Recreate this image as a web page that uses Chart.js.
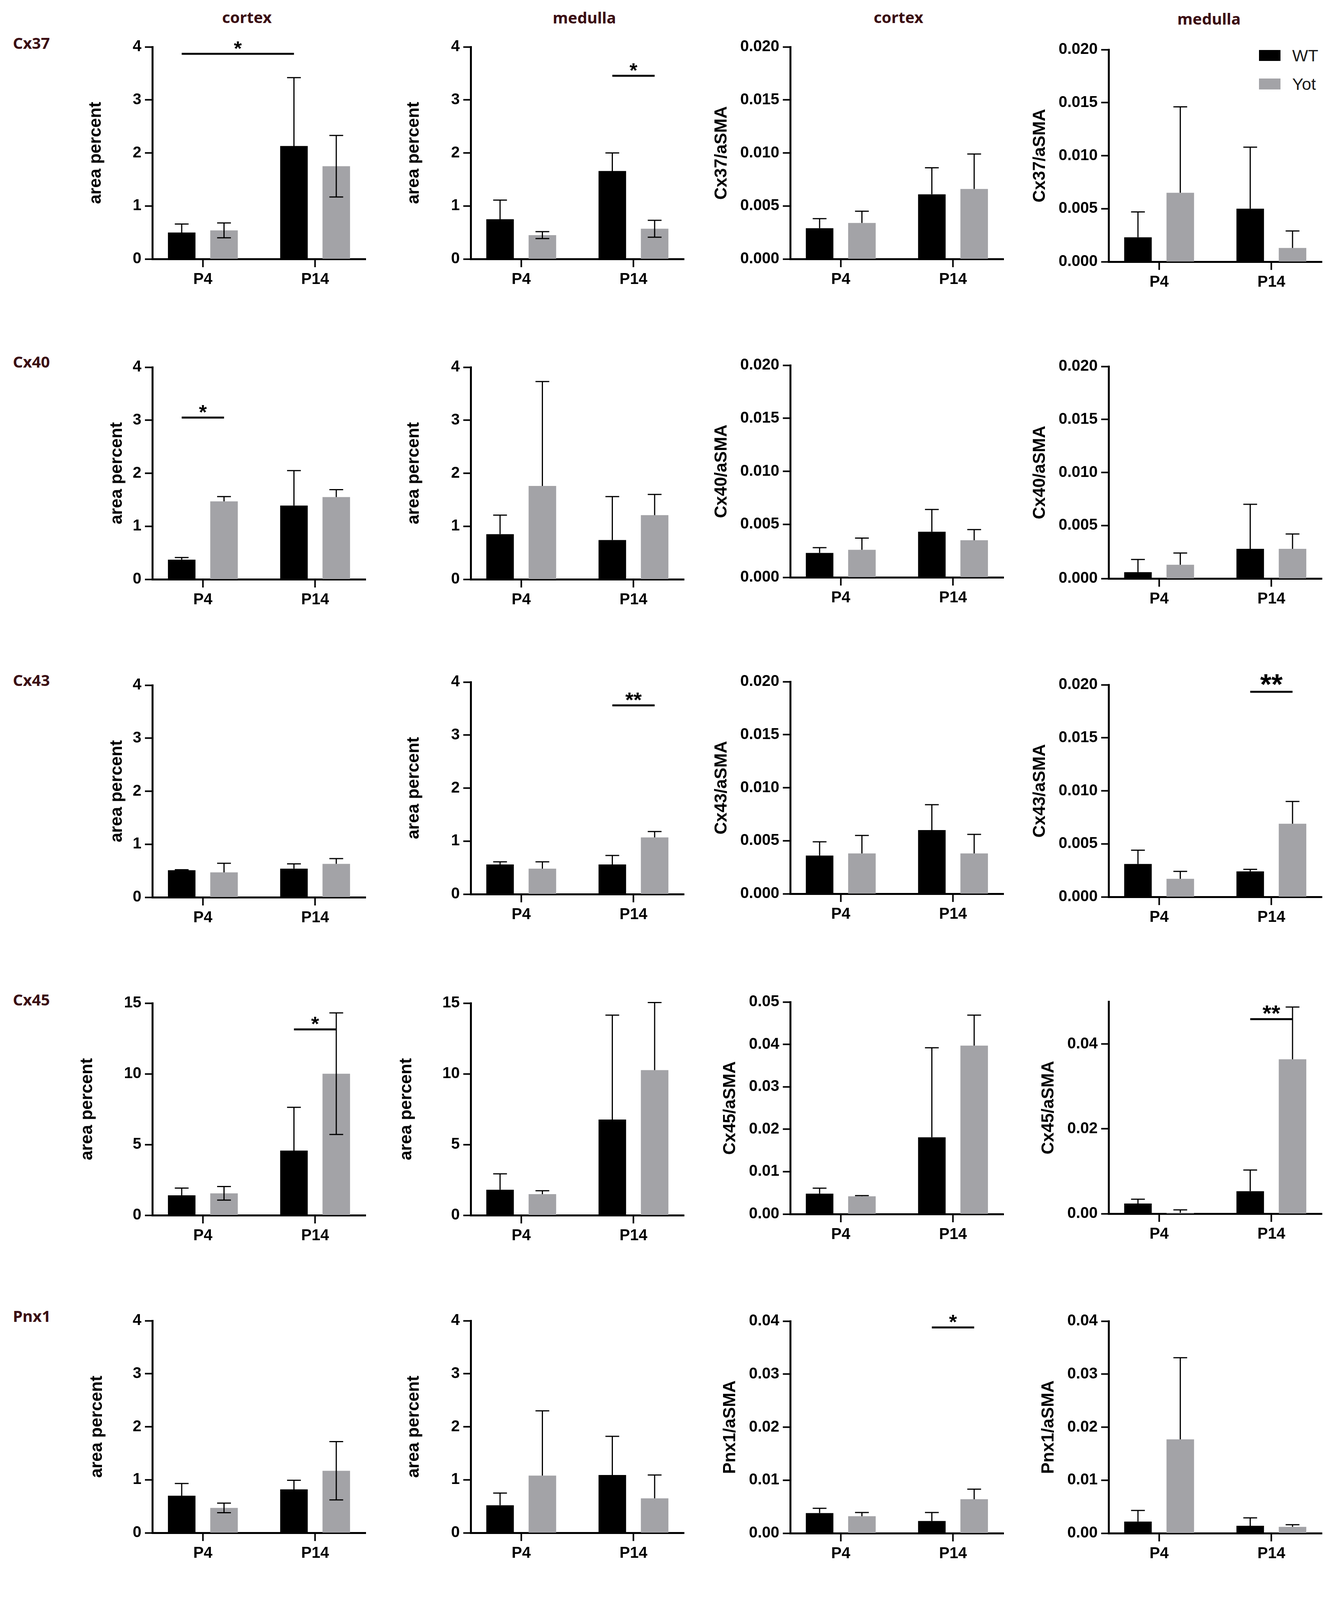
<!DOCTYPE html>
<html>
<head>
<meta charset="utf-8">
<title>Connexin area and aSMA ratio, WT vs Yot</title>
<script src="https://cdn.jsdelivr.net/npm/chart.js@4.4.1/dist/chart.umd.min.js"></script>
<style>
  html, body { margin: 0; padding: 0; background: #fff; }
  #page { position: relative; width: 3415px; height: 4843px; overflow: hidden; background: #fff; }
  #page canvas { position: absolute; }
  .head, .marker {
    position: absolute; font-family: 'Noto Sans', sans-serif; font-weight: 700;
    color: #3a0d12; line-height: 1; white-space: nowrap;
  }
  .head { font-size: 40px; width: 300px; text-align: center; }
  .marker { font-size: 40px; left: 33px; }
  .legend { position: absolute; left: 3223px; top: 117px; font-family: 'Liberation Sans', Arial, sans-serif; font-size: 43px; color: #1a1a1a; }
  .legend .item { display: flex; align-items: center; height: 50px; margin-bottom: 23px; }
  .legend .box { width: 55px; height: 28px; margin-right: 30px; }
</style>
</head>
<body>
<div id="page"></div>
<script>
// ---- data ----
const categories = ['P4', 'P14'];
const groups = ['WT', 'Yot'];
const markers = ['Cx37', 'Cx40', 'Cx43', 'Cx45', 'Pnx1', 'Renin'];
const regions = ['cortex', 'medulla', 'cortex', 'medulla'];

// y tick labels
const ticksArea4 = ['0', '1', '2', '3', '4'];
const ticksArea15 = ['0', '5', '10', '15'];
const ticksRatio020 = ['0.000', '0.005', '0.010', '0.015', '0.020'];
const ticksRatio05 = ['0.00', '0.01', '0.02', '0.03', '0.04', '0.05'];
const ticksRatio04 = ['0.00', '0.01', '0.02', '0.03', '0.04'];
const ticksRatio04Wide = ['0.00', '0.02', '0.04'];   // axis itself runs to 0.05

// each row: [cortex area, medulla area, cortex ratio, medulla ratio], each [P4, P14]
const cx37WT    = [[0.50, 2.13], [0.75, 1.66], [0.0029, 0.0061], [0.0023, 0.0050]];
const cx37WTsd  = [[0.16, 1.29], [0.36, 0.34], [0.0009, 0.0025], [0.0024, 0.0058]];
const cx37Yot   = [[0.54, 1.75], [0.45, 0.57], [0.0034, 0.0066], [0.0065, 0.0013]];
const cx37YotSd = [[0.14, 0.58], [0.065, 0.16], [0.0011, 0.0033], [0.0081, 0.0016]];

const cx40WT    = [[0.37, 1.39], [0.85, 0.74], [0.0023, 0.0043], [0.0006, 0.0028]];
const cx40WTsd  = [[0.04, 0.66], [0.36, 0.82], [0.0005, 0.0021], [0.0012, 0.0042]];
const cx40Yot   = [[1.47, 1.55], [1.76, 1.21], [0.0026, 0.0035], [0.0013, 0.0028]];
const cx40YotSd = [[0.09, 0.14], [1.97, 0.39], [0.0011, 0.0010], [0.0011, 0.0014]];

const cx43WT    = [[0.51, 0.54], [0.56, 0.56], [0.0036, 0.0060], [0.0031, 0.0024]];
const cx43WTsd  = [[0.01, 0.09], [0.05, 0.17], [0.0013, 0.0024], [0.0013, 0.0002]];
const cx43Yot   = [[0.47, 0.63], [0.48, 1.07], [0.0038, 0.0038], [0.0017, 0.0069]];
const cx43YotSd = [[0.17, 0.10], [0.13, 0.11], [0.0017, 0.0018], [0.0007, 0.0021]];

const cx45WT    = [[1.41, 4.57], [1.80, 6.77], [0.0048, 0.0181], [0.0024, 0.0053]];
const cx45WTsd  = [[0.51, 3.06], [1.13, 7.38], [0.0013, 0.0211], [0.0010, 0.0050]];
const cx45Yot   = [[1.55, 10.01], [1.49, 10.26], [0.0042, 0.0397], [0.0002, 0.0364]];
const cx45YotSd = [[0.48, 4.30], [0.24, 4.78], [0.00014, 0.0072], [0.0007, 0.0123]];

const pnx1WT    = [[0.70, 0.82], [0.52, 1.09], [0.0038, 0.0023], [0.0022, 0.0014]];
const pnx1WTsd  = [[0.23, 0.17], [0.23, 0.73], [0.0009, 0.0016], [0.0021, 0.0015]];
const pnx1Yot   = [[0.47, 1.17], [1.08, 0.65], [0.0032, 0.0064], [0.0177, 0.0012]];
const pnx1YotSd = [[0.09, 0.55], [1.22, 0.44], [0.0007, 0.0019], [0.0154, 0.0004]];

const reninWT    = [[0.034, 0.365], [0.024, 0.303], [0.0056, 0.0060], [0.0062, 0.0024]];
const reninWTsd  = [[0.031, 0.12], [0.052, 0], [0.0074, 0.0024], [0.0042, 0.0002]];
const reninYot   = [[0.052, 0.788], [0.031, 0.372], [0.0085, 0.0037], [0.0023, 0.0069]];
const reninYotSd = [[0.013, 0.085], [0.010, 0.11], [0.0060, 0.0018], [0.0023, 0.0021]];

// y axis per row and column
const areaTicks = [ticksArea4, ticksArea4, ticksArea4, ticksArea15, ticksArea4, ticksArea4];
const ratioTicks = [ticksRatio020, ticksRatio020, ticksRatio020, ticksRatio05, ticksRatio04, ticksRatio020];
const medullaRatioTicks = [ticksRatio020, ticksRatio020, ticksRatio020, ticksRatio04Wide, ticksRatio04, ticksRatio020];
const medullaRatioMax = [0.02, 0.02, 0.02, 0.05, 0.04, 0.02];

// significance: from/to = [category, group], y in data units
const sigBars = [
  { row: 0, col: 0, from: [0, 0], to: [1, 0], y: 3.87, text: '*' },
  { row: 0, col: 1, from: [1, 0], to: [1, 1], y: 3.455, text: '*' },
  { row: 1, col: 0, from: [0, 0], to: [0, 1], y: 3.05, text: '*' },
  { row: 2, col: 1, from: [1, 0], to: [1, 1], y: 3.56, text: '**' },
  { row: 2, col: 3, from: [1, 0], to: [1, 1], y: 0.01934, text: '**' },
  { row: 3, col: 0, from: [1, 0], to: [1, 1], y: 13.14, text: '*' },
  { row: 3, col: 3, from: [1, 0], to: [1, 1], y: 0.04585, text: '**' },
  { row: 4, col: 2, from: [1, 0], to: [1, 1], y: 0.0388, text: '*' },
  { row: 5, col: 0, from: [1, 0], to: [1, 1], y: 1.997, text: '***' }
];

// ---- layout / style ----
const WT_COLOR = '#000000';
const YOT_COLOR = '#a3a3a7';
const FONT = "'Liberation Sans', Arial, sans-serif";
const Y_BOX = 240, PAD_TOP = 70, PAD_RIGHT = 20, X_BOX = 120;
const PLOT_W = 546, PLOT_H = 543;
const X_MIN = -0.45, X_MAX = 1.45;
const axisLeft = [390, 1205, 2023, 2838];
const plotTop = [
  [120, 120, 120, 127],
  [940, 940, 935, 938],
  [1754, 1746, 1745, 1753],
  [2568, 2568, 2565, 2564],
  [3381, 3381, 3382, 3382],
  [4199, 4195, 4192, 4194]
];
// distance from y axis to the centre of its title
const titleGap = [
  [144, 145, 175, 175],
  [90, 145, 175, 175],
  [90, 145, 175, 175],
  [166, 164, 153, 153],
  [141, 145, 153, 153],
  [90, 145, 170, 175]
];
// error bars drawn in both directions
const bothWays = [
  [1, 1, 0, 0], [0, 0, 0, 0], [0, 0, 0, 0], [1, 0, 0, 0], [1, 0, 0, 0], [1, 1, 0, 0]
];
const sigFontSize = [52, 52, 52, 54, 74, 52, 58, 52, 52];
const headLeft = [632, 1496, 2300, 3095];
const headTop = [24, 25, 24, 28];
const markerTop = [90, 906, 1721, 2539, 3349, 4168];

const rows = [
  { marker: markers[0], wt: cx37WT, wtSd: cx37WTsd, yot: cx37Yot, yotSd: cx37YotSd },
  { marker: markers[1], wt: cx40WT, wtSd: cx40WTsd, yot: cx40Yot, yotSd: cx40YotSd },
  { marker: markers[2], wt: cx43WT, wtSd: cx43WTsd, yot: cx43Yot, yotSd: cx43YotSd },
  { marker: markers[3], wt: cx45WT, wtSd: cx45WTsd, yot: cx45Yot, yotSd: cx45YotSd },
  { marker: markers[4], wt: pnx1WT, wtSd: pnx1WTsd, yot: pnx1Yot, yotSd: pnx1YotSd },
  { marker: markers[5], wt: reninWT, wtSd: reninWTsd, yot: reninYot, yotSd: reninYotSd }
];

const page = document.getElementById('page');

// mean + SD whiskers
const errorBars = {
  id: 'errorBars',
  afterDatasetsDraw(chart, args, opts) {
    const { ctx } = chart;
    const y = chart.scales.y;
    ctx.save();
    ctx.strokeStyle = '#000';
    ctx.lineWidth = 3;
    chart.data.datasets.forEach((ds, di) => {
      chart.getDatasetMeta(di).data.forEach((bar, i) => {
        const v = ds.data[i].y, e = ds.errors[i];
        if (!e) return;
        const half = bar.width * 0.25;
        const yv = y.getPixelForValue(v);
        const yt = y.getPixelForValue(v + e);
        ctx.beginPath();
        ctx.moveTo(bar.x, yv); ctx.lineTo(bar.x, yt);
        ctx.moveTo(bar.x - half, yt); ctx.lineTo(bar.x + half, yt);
        if (opts.both && v - e > 0) {
          const yb = y.getPixelForValue(v - e);
          ctx.moveTo(bar.x, yv); ctx.lineTo(bar.x, yb);
          ctx.moveTo(bar.x - half, yb); ctx.lineTo(bar.x + half, yb);
        }
        ctx.stroke();
      });
    });
    ctx.restore();
  }
};

// significance lines with stars
const sigMarks = {
  id: 'sigMarks',
  afterDraw(chart, args, opts) {
    const { ctx } = chart;
    const y = chart.scales.y;
    opts.items.forEach(s => {
      const x1 = chart.getDatasetMeta(s.from[1]).data[s.from[0]].x;
      const x2 = chart.getDatasetMeta(s.to[1]).data[s.to[0]].x;
      const yy = y.getPixelForValue(s.y);
      ctx.save();
      ctx.strokeStyle = '#000';
      ctx.lineWidth = 5;
      ctx.beginPath();
      ctx.moveTo(x1, yy); ctx.lineTo(x2, yy);
      ctx.stroke();
      ctx.fillStyle = '#000';
      ctx.font = 'bold ' + s.size + 'px ' + FONT;
      ctx.textAlign = 'center';
      ctx.textBaseline = 'alphabetic';
      ctx.fillText(s.text, (x1 + x2) / 2, yy + s.size * 0.08);
      ctx.restore();
    });
  }
};

function ticksFor(r, c) {
  if (c < 2) return { labels: areaTicks[r], max: Number(areaTicks[r][areaTicks[r].length - 1]) };
  if (c === 2) return { labels: ratioTicks[r], max: Number(ratioTicks[r][ratioTicks[r].length - 1]) };
  return { labels: medullaRatioTicks[r], max: medullaRatioMax[r] };
}

function makePanel(r, c) {
  const row = rows[r];
  const t = ticksFor(r, c);
  const w = Y_BOX + PLOT_W + PAD_RIGHT;
  const h = PAD_TOP + PLOT_H + X_BOX;
  const canvas = document.createElement('canvas');
  canvas.width = w;
  canvas.height = h;
  canvas.style.left = (axisLeft[c] - Y_BOX) + 'px';
  canvas.style.top = (plotTop[r][c] - PAD_TOP) + 'px';
  canvas.style.width = w + 'px';
  canvas.style.height = h + 'px';
  page.appendChild(canvas);

  const titleSize = 44;
  const titlePad = Y_BOX - titleGap[r][c] - titleSize * 1.2 / 2;
  const sigs = [];
  sigBars.forEach((s, i) => {
    if (s.row === r && s.col === c) sigs.push(Object.assign({ size: sigFontSize[i] }, s));
  });

  const series = [
    { label: groups[0], values: row.wt[c], errors: row.wtSd[c], color: WT_COLOR },
    { label: groups[1], values: row.yot[c], errors: row.yotSd[c], color: YOT_COLOR }
  ];

  new Chart(canvas, {
    type: 'bar',
    data: {
      datasets: series.map(s => ({
        label: s.label,
        data: s.values.map((v, i) => ({ x: i, y: v })),
        errors: s.errors,
        backgroundColor: s.color,
        borderWidth: 0,
        categoryPercentage: 0.754,
        barPercentage: 0.651
      }))
    },
    options: {
      responsive: false,
      animation: false,
      devicePixelRatio: 1,
      events: [],
      layout: { padding: { top: PAD_TOP, right: PAD_RIGHT, left: 0, bottom: 0 } },
      plugins: {
        legend: { display: false },
        tooltip: { enabled: false },
        errorBars: { both: !!bothWays[r][c] },
        sigMarks: { items: sigs }
      },
      scales: {
        x: {
          type: 'linear',
          min: X_MIN,
          max: X_MAX,
          offset: false,
          z: 1,
          afterBuildTicks: axis => { axis.ticks = categories.map((_, i) => ({ value: i })); },
          afterFit: axis => { axis.height = X_BOX; },
          ticks: {
            callback: (v, i) => categories[i],
            autoSkip: false, maxRotation: 0, padding: 8, color: '#000',
            font: { family: FONT, size: 40, weight: 'bold' }
          },
          grid: { display: true, offset: false, drawOnChartArea: false, drawTicks: true, tickLength: 21, tickWidth: 4, tickColor: '#000' },
          border: { display: true, width: 5, color: '#000' }
        },
        y: {
          type: 'linear',
          min: 0,
          max: t.max,
          z: 1,
          afterBuildTicks: axis => { axis.ticks = t.labels.map(l => ({ value: Number(l) })); },
          afterFit: axis => { axis.width = Y_BOX; },
          ticks: {
            callback: (v, i) => t.labels[i],
            autoSkip: false, padding: 9, color: '#000',
            font: { family: FONT, size: 40, weight: 'bold' }
          },
          grid: { display: true, drawOnChartArea: false, drawTicks: true, tickLength: 19, tickWidth: 4, tickColor: '#000' },
          border: { display: true, width: 5, color: '#000' },
          title: {
            display: true,
            text: c < 2 ? 'area percent' : row.marker + '/aSMA',
            color: '#000',
            padding: { top: titlePad, bottom: 0 },
            font: { family: FONT, size: titleSize, weight: 'bold' }
          }
        }
      }
    },
    plugins: [errorBars, sigMarks]
  });
}

// column headers and row labels
regions.forEach((name, c) => {
  const d = document.createElement('div');
  d.className = 'head';
  d.textContent = name;
  d.style.left = (headLeft[c] - 150) + 'px';
  d.style.top = headTop[c] + 'px';
  page.appendChild(d);
});
markers.forEach((name, r) => {
  const d = document.createElement('div');
  d.className = 'marker';
  d.textContent = name;
  d.style.top = markerTop[r] + 'px';
  page.appendChild(d);
});

// legend
const legend = document.createElement('div');
legend.className = 'legend';
groups.forEach((g, i) => {
  const item = document.createElement('div');
  item.className = 'item';
  const box = document.createElement('span');
  box.className = 'box';
  box.style.background = i === 0 ? WT_COLOR : YOT_COLOR;
  const label = document.createElement('span');
  label.textContent = g;
  item.appendChild(box);
  item.appendChild(label);
  legend.appendChild(item);
});
page.appendChild(legend);

rows.forEach((row, r) => {
  regions.forEach((_, c) => makePanel(r, c));
});
</script>
</body>
</html>
